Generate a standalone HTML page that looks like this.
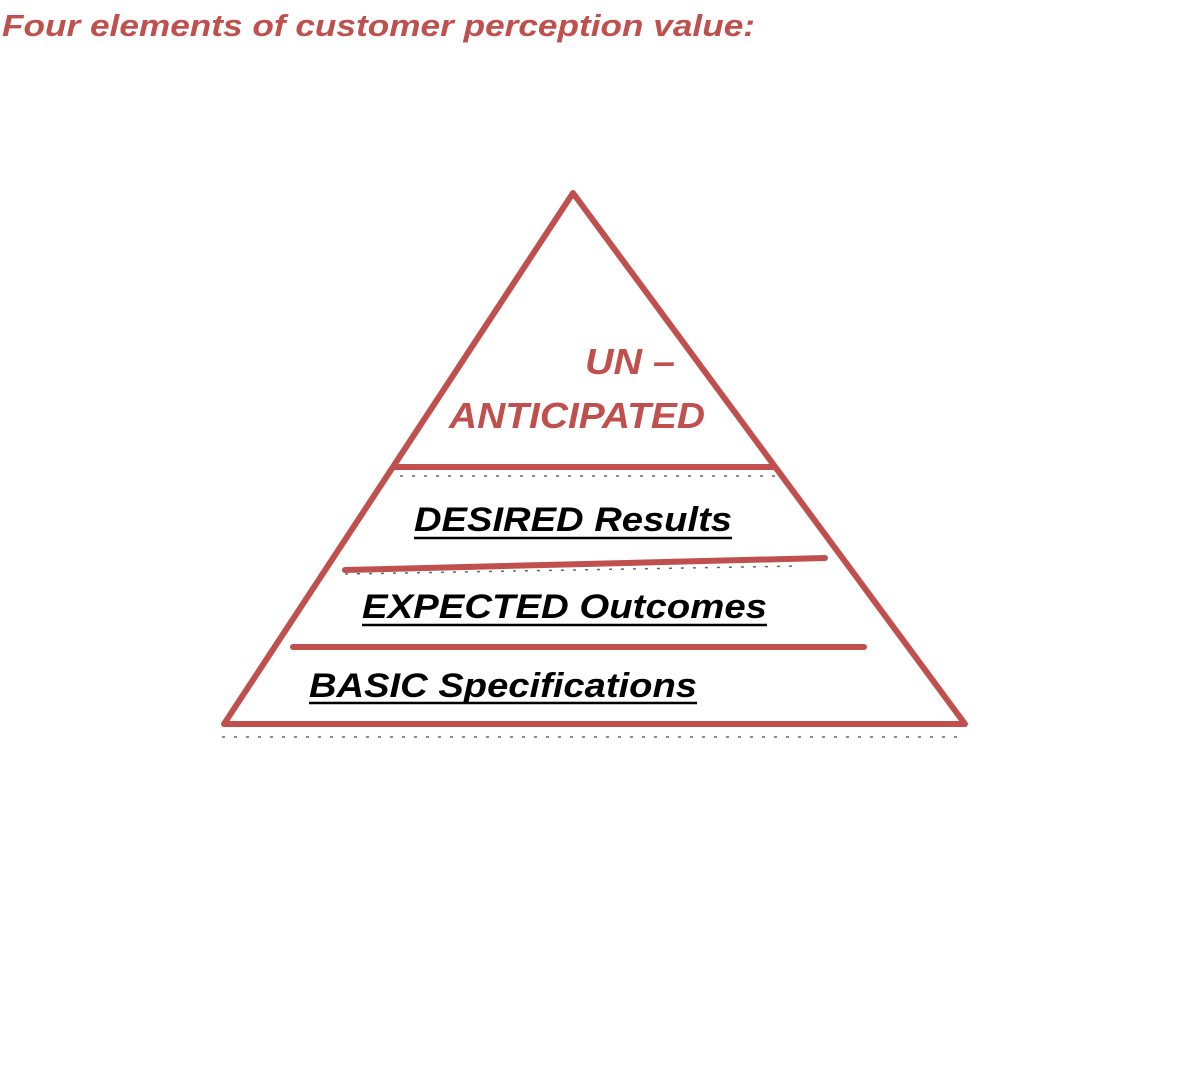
<!DOCTYPE html>
<html><head><style>html,body{margin:0;padding:0;background:#fff;}svg{display:block}</style></head>
<body>
<svg width="1200" height="1085" xmlns="http://www.w3.org/2000/svg">
<text x="2" y="36" font-family="Liberation Sans, sans-serif" font-style="italic" font-weight="bold" font-size="31" fill="#c0504d" textLength="753" lengthAdjust="spacingAndGlyphs">Four elements of customer perception value:</text>
<g stroke="#c0504d" stroke-width="6" fill="none" stroke-linejoin="round" stroke-linecap="round">
<polygon points="573,193 224,724 965,724"/>
<line x1="394" y1="467" x2="773" y2="467"/>
<line x1="345" y1="570" x2="825" y2="558"/>
<line x1="293" y1="647" x2="864" y2="647"/>
</g>
<g font-family="Liberation Sans, sans-serif" font-style="italic" font-weight="bold" fill="#c0504d" font-size="36">
<text x="585" y="374" textLength="90" lengthAdjust="spacingAndGlyphs">UN –</text>
<text x="449" y="428" textLength="256" lengthAdjust="spacingAndGlyphs">ANTICIPATED</text>
</g>
<g font-family="Liberation Sans, sans-serif" font-style="italic" font-weight="bold" fill="#000" font-size="34">
<text x="414" y="531" textLength="318" lengthAdjust="spacingAndGlyphs">DESIRED Results</text>
<text x="362" y="618" textLength="405" lengthAdjust="spacingAndGlyphs">EXPECTED Outcomes</text>
<text x="309" y="697" textLength="388" lengthAdjust="spacingAndGlyphs">BASIC Specifications</text>
</g>
<g stroke="#000" stroke-width="2.5">
<line x1="414" y1="538" x2="732" y2="538"/>
<line x1="362" y1="625" x2="767" y2="625"/>
<line x1="309" y1="703" x2="697" y2="703"/>
</g>
<g stroke="#000" stroke-width="1.5" stroke-dasharray="3,9" opacity="0.6">
<line x1="222" y1="737" x2="966" y2="737"/>
<line x1="400" y1="476" x2="775" y2="476"/>
<line x1="345" y1="574" x2="800" y2="566"/>
</g>
</svg>
</body></html>
